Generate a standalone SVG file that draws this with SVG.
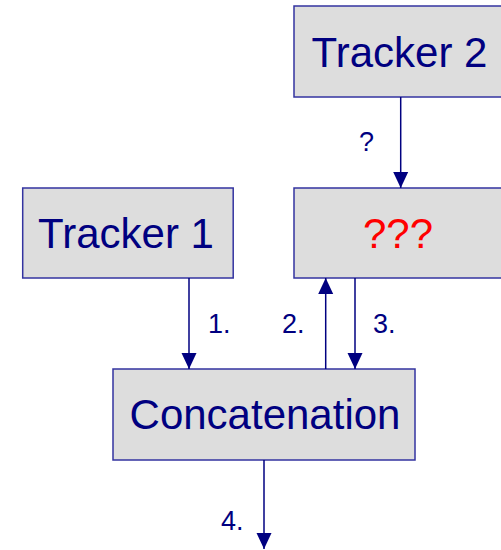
<svg xmlns="http://www.w3.org/2000/svg" width="501" height="550" viewBox="0 0 501 550">
<defs>
<style>
.box{fill:#dddddd;stroke:#3333a0;stroke-width:1.5}
.t{font-family:"Liberation Sans",Arial,sans-serif;font-size:42px;fill:#000080;text-anchor:middle}
.l{font-family:"Liberation Sans",Arial,sans-serif;font-size:27px;fill:#000080}
.c{stroke:#000080;stroke-width:1.5;fill:none}
</style>
<marker id="ah" markerWidth="16" markerHeight="16" viewBox="0 0 16 16" refX="16" refY="8" orient="auto" markerUnits="userSpaceOnUse">
<path d="M0,0.5 L16,8 L0,15.5 Z" fill="#000080"/>
</marker>
</defs>
<rect width="501" height="550" fill="#ffffff"/>
<g id="tracker2"><rect class="box" x="294" y="6" width="210" height="91"/><text class="t" x="399.5" y="67">Tracker 2</text></g>
<g id="unknown"><rect class="box" x="294" y="188" width="210" height="90"/><text class="t" x="398" y="248" style="fill:#ff0000">???</text></g>
<g id="tracker1"><rect class="box" x="22.7" y="188" width="210.5" height="90"/><text class="t" x="126" y="248">Tracker 1</text></g>
<g id="concat"><rect class="box" x="113" y="369" width="302" height="91"/><text class="t" x="265" y="429">Concatenation</text></g>
<g id="connectors">
<line class="c" x1="400.7" y1="97" x2="400.7" y2="188" marker-end="url(#ah)"/>
<line class="c" x1="189" y1="278" x2="189" y2="369" marker-end="url(#ah)"/>
<line class="c" x1="325.7" y1="369" x2="325.7" y2="278" marker-end="url(#ah)"/>
<line class="c" x1="355" y1="278" x2="355" y2="369" marker-end="url(#ah)"/>
<line class="c" x1="264" y1="460" x2="264" y2="549" marker-end="url(#ah)"/>
<text class="l" x="359" y="151">?</text>
<text class="l" x="208" y="333">1.</text>
<text class="l" x="282" y="333">2.</text>
<text class="l" x="373" y="333">3.</text>
<text class="l" x="221" y="530">4.</text>
</g>
</svg>
